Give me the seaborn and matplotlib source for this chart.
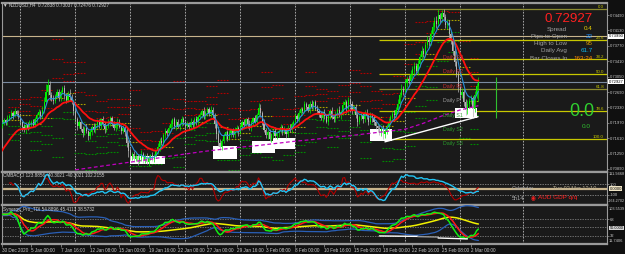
import numpy as np
import pandas as pd
import matplotlib
matplotlib.use("Agg")
import matplotlib.pyplot as plt
from matplotlib.patches import Rectangle
import seaborn as sns

# ---------------- data (NZDUSD H4, prices in pips x1e-4) ----------------
first_open_pips = 7190
close_pips = [
    7195, 7203, 7198, 7208, 7212,
    7220, 7214, 7225, 7218, 7210,
    7198, 7188, 7180, 7192, 7185, 7195, 7200, 7192,
    7205, 7215, 7222, 7212, 7228,
    7245, 7270, 7285, 7262, 7255,
    7248, 7260, 7268, 7255, 7270, 7278, 7262, 7250, 7265, 7258, 7245,
    7225, 7205, 7190, 7198,
    7182, 7172, 7185, 7178, 7165, 7175, 7188, 7180, 7192,
    7200, 7190, 7205, 7195, 7182, 7190, 7198, 7208, 7195, 7185, 7192, 7200, 7188, 7178, 7185, 7175,
    7150, 7130, 7118, 7125,
    7112, 7120, 7108, 7115, 7125, 7110, 7118, 7105, 7115, 7122, 7112, 7120, 7130,
    7140, 7155, 7150, 7168, 7178, 7172, 7185,
    7195, 7205, 7190, 7200, 7188, 7195, 7205, 7198, 7190,
    7195, 7188, 7200, 7192, 7205, 7198, 7210,
    7215, 7225, 7212, 7222, 7230, 7218, 7228, 7215,
    7195, 7170, 7150, 7140, 7155,
    7165, 7175, 7160, 7172, 7180, 7168, 7178, 7185, 7175,
    7188, 7198, 7192, 7205, 7195, 7185, 7198, 7208, 7200, 7215, 7232, 7220, 7200,
    7180, 7168, 7175, 7160, 7170, 7178, 7165, 7172,
    7178, 7188, 7175, 7182, 7170, 7185, 7180, 7195,
    7200, 7212, 7205, 7220, 7230, 7225, 7240, 7235, 7228, 7242, 7235, 7245, 7230, 7225,
    7218, 7208, 7222, 7212, 7200, 7215, 7225, 7210, 7205, 7218, 7228, 7215, 7222,
    7238, 7245, 7230, 7250, 7240, 7225, 7235, 7215, 7198, 7210,
    7215, 7205, 7220, 7212, 7200, 7215, 7208, 7198, 7190, 7185,
    7175, 7182, 7170, 7178, 7188, 7200,
    7210, 7218, 7215, 7228, 7242,
    7262, 7275, 7270, 7290, 7300, 7295,
    7310, 7322, 7330, 7318, 7335,
    7350, 7365, 7358, 7378, 7390, 7385,
    7405, 7420, 7435, 7428, 7448, 7440,
    7455,
    7445, 7425, 7430, 7405,
    7390, 7365, 7340, 7310, 7280,
    7262, 7270, 7245, 7228, 7240, 7248,
    7255, 7230, 7262, 7283.8, 7292.7,
]
wick_hi = [
    4, 6, 3, 8, 5, 7, 4, 6, 3, 9,
    5, 3, 7, 4, 6, 8, 3, 5, 6, 4,
    7, 5, 9, 12, 18, 15, 10, 8, 6, 5,
    9, 7, 4, 6, 8, 5, 7, 10, 6, 4,
    8, 6, 5, 4, 7, 5, 9, 3, 6, 4,
    8, 5, 6, 7, 4, 9, 5, 3, 8, 6,
    5, 7, 4, 8, 6, 3, 7, 5, 9, 6,
    8, 4, 5, 7, 3, 6, 9, 4, 5, 8,
    6, 3, 7, 5, 4, 9, 6, 8, 5, 7,
    4, 6, 8, 3, 5, 7, 6, 4, 9, 5,
    3, 7, 5, 8, 4, 6, 9, 5, 7, 4,
    8, 6, 3, 5, 9, 7, 4, 6, 10, 8,
    5, 7, 4, 6, 8, 3, 5, 9, 6, 4,
    7, 5, 8, 4, 6, 9, 5, 3, 7, 6,
    12, 8, 5, 7, 4, 6, 8, 3, 5, 9,
    6, 4, 7, 5, 8, 3, 6, 9, 5, 4,
    7, 6, 8, 5, 4, 9, 6, 5, 7, 8,
    4, 6, 9, 5, 7, 3, 8, 6, 4, 5,
    9, 6, 7, 4, 8, 5, 10, 7, 6, 8,
    5, 9, 4, 7, 6, 5, 8, 4, 6, 9,
    5, 7, 4, 8, 6, 3, 7, 5, 9, 4,
    6, 8, 5, 7, 9, 6, 10, 8, 12, 7,
    9, 6, 8, 11, 7, 9, 6, 10, 8, 12,
    7, 9, 11, 8, 10, 13, 9, 12, 15, 7,
    7, 8, 6, 9, 7, 5, 8, 6, 4, 9,
    3, 8, 5, 7, 10, 6, 8, 5, 9, 7,
    11,
]
wick_lo = [
    6, 4, 7, 5, 3, 5, 8, 4, 6, 5,
    7, 9, 4, 6, 5, 3, 7, 5, 4, 8,
    5, 6, 4, 7, 5, 9, 12, 6, 8, 5,
    4, 7, 6, 5, 9, 6, 4, 8, 5, 10,
    7, 9, 6, 5, 8, 4, 6, 9, 5, 7,
    5, 6, 8, 4, 7, 5, 9, 6, 4, 8,
    6, 5, 7, 9, 4, 8, 6, 10, 9, 12,
    7, 8, 6, 5, 9, 4, 7, 6, 8, 5,
    9, 6, 5, 7, 4, 6, 8, 5, 9, 6,
    7, 4, 6, 8, 5, 9, 4, 7, 5, 6,
    8, 5, 7, 4, 6, 9, 5, 8, 4, 7,
    5, 6, 9, 4, 7, 8, 10, 12, 8, 6,
    7, 5, 8, 6, 4, 9, 5, 7, 6, 8,
    5, 8, 4, 6, 9, 5, 7, 6, 4, 8,
    5, 9, 7, 4, 6, 8, 5, 7, 9, 4,
    6, 8, 5, 7, 4, 9, 6, 5, 8, 6,
    5, 7, 6, 8, 4, 6, 9, 5, 7, 5,
    8, 4, 6, 7, 5, 9, 6, 4, 7, 8,
    5, 7, 6, 9, 4, 8, 6, 7, 9, 10,
    6, 8, 5, 7, 9, 4, 6, 8, 5, 7,
    9, 6, 8, 5, 7, 10, 6, 8, 10, 9,
    7, 6, 9, 5, 8, 6, 9, 7, 5, 8,
    6, 9, 7, 5, 8, 10, 6, 9, 7, 8,
    6, 8, 5, 9, 7, 6, 8, 10, 7, 9,
    8, 10, 7, 9, 12, 8, 10, 9, 7, 11,
    9, 8, 8, 12, 10, 9, 7, 21, 8, 6,
    36,
]
red_ma_seed = 0.7125
ma_long_bars = list(range(40, 261, 10))
ma_long = [0.7087, 0.7093, 0.7099, 0.7105, 0.7111, 0.7118, 0.7124, 0.7130, 0.7135,
           0.7140, 0.7144, 0.7149, 0.7154, 0.7158, 0.7163, 0.7167, 0.7172, 0.7177,
           0.7182, 0.7196, 0.7213, 0.7227, 0.7237]
tick_bars = list(range(0, 257, 16))
tick_labels = ["30 Dec 2020", "5 Jan 00:00", "7 Jan 16:00", "12 Jan 08:00", "15 Jan 00:00",
               "19 Jan 16:00", "22 Jan 08:00", "27 Jan 00:00", "29 Jan 16:00", "3 Feb 08:00",
               "8 Feb 00:00", "10 Feb 16:00", "15 Feb 08:00", "18 Feb 00:00", "22 Feb 16:00",
               "25 Feb 08:00", "2 Mar 00:00"]
week_bars = [10, 40, 70, 100, 130, 160, 190, 220, 250, 284.5]
price_ticks = [0.74490, 0.74130, 0.73770, 0.73410, 0.73050, 0.72690, 0.72330,
               0.71970, 0.71610, 0.71250, 0.70890]
hline_price = 0.73990
fib_levels = [0.0, 23.6, 38.2, 50.0, 61.8, 78.6, 100.0]
fib_high, fib_low, fib_start = 0.7463, 0.7160, 205.5
boxes = [(70.0, 89.1, 0.71008, 0.71196), (115.3, 128.4, 0.71125, 0.71431),
         (136.5, 149.1, 0.71266, 0.71549), (148.0, 160.0, 0.71361, 0.71619),
         (200.9, 212.9, 0.71549, 0.71831), (247.3, 259.3, 0.72090, 0.72325)]
trend_main = ([209.0, 259.8], [0.71525, 0.72114])
info_labels = ["Spread", "Pips to Open", "High to Low", "Daily Avg", "Bar Closes In"]
info_values = ["0.4", "22", "95", "61.7", "163:24"]
info_colors = ["#e8d000", "#1e90ff", "#e0a000", "#10b8f0", "#ff8c00"]

# ---------------- derived series ----------------
c = np.array(close_pips, dtype=float) / 1e4
o = np.r_[first_open_pips, close_pips[:-1]] / 1e4
hi = np.maximum(o, c) + np.array(wick_hi) / 1e4
lo = np.minimum(o, c) - np.array(wick_lo) / 1e4
n = len(c)
bars = np.arange(n)
cs = pd.Series(c)
ema_fast = cs.ewm(span=6, adjust=False).mean().values
ema_red = pd.Series(np.r_[red_ma_seed, c]).ewm(span=20, adjust=False).mean().values[1:]

tp = pd.Series((hi + lo + c) / 3)
def cci(period, minp):
    sma = tp.rolling(period, min_periods=minp).mean()
    mad = tp.rolling(period, min_periods=minp).apply(lambda x: np.mean(np.abs(x - x.mean())), raw=True)
    return ((tp - sma) / (0.015 * mad)).values
cci_fast = cci(14, 5)
cci_slow = cci(50, 8)

delta = pd.Series(np.r_[np.nan, np.diff(c)])
gain = delta.clip(lower=0).ewm(alpha=1 / 13, adjust=True, min_periods=3).mean()
loss = (-delta).clip(lower=0).ewm(alpha=1 / 13, adjust=True, min_periods=3).mean()
rsi = (100 * gain / (gain + loss)).bfill()
tdi_green = rsi.rolling(2, min_periods=1).mean().values
tdi_red = rsi.rolling(7, min_periods=1).mean().values
tdi_yel = rsi.rolling(34, min_periods=1).mean()
tdi_std = rsi.rolling(34, min_periods=5).std().bfill()
tdi_up = (tdi_yel + 1.6185 * tdi_std).values
tdi_dn = (tdi_yel - 1.6185 * tdi_std).values
tdi_yel = tdi_yel.values

day_id = np.where(bars < 4, 0, (bars - 4) // 6 + 1)
df = pd.DataFrame({"h": hi, "l": lo, "c": c, "d": day_id})
g = df.groupby("d").agg(h=("h", "max"), l=("l", "min"), c=("c", "last"))

# ---------------- style / figure ----------------
sns.set_style("dark", {"axes.facecolor": "#1a1a1a", "figure.facecolor": "#101010"})
plt.rcParams["font.family"] = ["Liberation Sans Narrow", "Liberation Sans", "DejaVu Sans"]
SMALL = 3.3
AX_LAB = 3.0
W, H = 625, 254
fig = plt.figure(figsize=(W / 100, H / 100), dpi=100)
R = 607

def rect(top, bottom):
    return [2 / W, 1 - bottom / H, (R - 2) / W, (bottom - top) / H]

ax = fig.add_axes(rect(3, 172))
axc = fig.add_axes(rect(172, 204.5), sharex=ax)
axt = fig.add_axes(rect(204.5, 243.5), sharex=ax)
XL = ((2 - 1.67) / 1.8333, (R - 1.67) / 1.8333)

GRID = dict(color="#bcbcbc", lw=0.6, ls=(0, (2, 1.6)), zorder=1)
for a in (ax, axc, axt):
    a.grid(False)
    for wb in week_bars:
        a.axvline(wb, **GRID)
    for s in a.spines.values():
        s.set_color("#9a9a9a")
        s.set_linewidth(0.8)
    a.spines["top"].set_linewidth(1.6)
    a.spines["bottom"].set_linewidth(1.6)

# ---- main panel ----
PIV_R, PIV_S, PIV_P = "#b00000", "#008a00", "#a8a000"
dots = (0, (1.6, 1.2))
for d in g.index[1:]:
    prev = g.loc[d - 1]
    P = (prev.h + prev.l + prev.c) / 3
    rng = prev.h - prev.l
    idx = bars[day_id == d]
    x0, x1 = idx[0] - 0.5, idx[-1] + 0.5
    ax.hlines([2 * P - prev.l, P + rng, prev.h + 2 * (P - prev.l)], x0, x1, colors=PIV_R, lw=0.8, ls=dots, zorder=2)
    ax.hlines([2 * P - prev.h, P - rng, prev.l - 2 * (prev.h - P)], x0, x1, colors=PIV_S, lw=0.8, ls=dots, zorder=2)
    ax.hlines(P, x0, x1, colors=PIV_P, lw=0.8, ls=dots, zorder=2)

last = g.iloc[-2]
P = (last.h + last.l + last.c) / 3
rng = last.h - last.l
cur_levels = [("Daily R3", last.h + 2 * (P - last.l), "#c83030"), ("Daily R2", P + rng, "#c83030"),
              ("Daily R1", 2 * P - last.l, "#c83030"), ("Daily P", P, "#9a9a9a"),
              ("Daily S1", 2 * P - last.h, "#3a9a3a"), ("Daily S2", P - rng, "#2a9a2a"),
              ("Daily S3", last.l - 2 * (last.h - P), "#2a9a2a")]
for name, lvl, col in cur_levels:
    ax.text(240.5, lvl, name, color=col, fontsize=3.8, va="center", ha="left", zorder=8)

for (b0, b1, p0, p1) in boxes:
    ax.add_patch(Rectangle((b0, p0), b1 - b0, p1 - p0, fc="white", ec="none", zorder=3))

ax.axhline(hline_price, color="#c8b48c", lw=0.8, zorder=2)
ax.axhline(c[-1], color="#7a8aa0", lw=0.8, zorder=2)
for lv in fib_levels:
    fp = fib_high - lv / 100 * (fib_high - fib_low)
    col = "#8c8a30" if lv in (0.0, 61.8) else "#c8c800"
    ax.hlines(fp, fib_start, XL[1], colors=col, lw=0.9, zorder=2)
    ax.text(328.5, fp, f"{lv:.1f}", color="#c8c800", fontsize=3.2, ha="right", va="bottom", zorder=8)

up = c >= o
cols = np.where(up, "#00f000", "#b4b4b4")
ax.vlines(bars, lo, hi, colors=cols, lw=0.5, zorder=4)
ax.bar(bars, np.maximum(np.abs(c - o), 0.00003), bottom=np.minimum(o, c), width=0.62,
       color=cols, lw=0, zorder=5)

sns.lineplot(x=ma_long_bars, y=ma_long, ax=ax, color="#c000c0", linewidth=0.9,
             linestyle=(0, (3, 2)), legend=False, estimator=None, sort=False, zorder=6)
sns.lineplot(x=bars, y=ema_red, ax=ax, color="#ff1010", linewidth=1.3, legend=False,
             estimator=None, sort=False, zorder=6)
sns.lineplot(x=bars, y=ema_fast, ax=ax, color="#2a8fd8", linewidth=0.8, legend=False,
             estimator=None, sort=False, zorder=7)
ax.plot(trend_main[0], trend_main[1], color="white", lw=1.0, zorder=7)
cur = g.iloc[-1]
ax.vlines(269.6, cur.l, cur.h, colors="#30c030", lw=0.8, zorder=6)

ax.set_ylim(0.74490 - 156 * 0.0002353, 0.74490 + 12 * 0.0002353)
ax.yaxis.tick_right()
ax.set_yticks(price_ticks)
ax.set_yticklabels([f"{v:.5f}" for v in price_ticks])
for val, txt in ((hline_price, "0.73990"), (c[-1], f"{c[-1]:.5f}")):
    ax.text(1.003, val, txt, transform=ax.get_yaxis_transform(), fontsize=AX_LAB, color="black",
            va="center", ha="left", bbox=dict(boxstyle="square,pad=0.12", fc="white", ec="none"),
            clip_on=False, zorder=10)

# ---- CCI panel ----
axc.axhline(0, color="#c8b48c", lw=1.6, zorder=2)
for lv in (100, -100):
    axc.axhline(lv, color="#9a9a9a", lw=0.5, ls=(0, (2, 1.6)), zorder=2)
sns.lineplot(x=bars, y=cci_fast, ax=axc, color="#b00000", linewidth=0.8, legend=False,
             estimator=None, sort=False, zorder=4)
sns.lineplot(x=bars, y=cci_slow, ax=axc, color="#22c4f4", linewidth=1.0, legend=False,
             estimator=None, sort=False, zorder=5)
axc.set_ylim(-290, 330)
axc.yaxis.tick_right()
axc.set_yticks([100, -100])
axc.set_yticklabels(["100", "-100"])

# ---- TDI panel ----
for lv in (68, 50, 32):
    axt.axhline(lv, color="#8c8c8c", lw=0.5, ls=(0, (2, 1.6)), zorder=2)
sns.lineplot(x=bars, y=tdi_up, ax=axt, color="#2a60b8", linewidth=0.9, legend=False, estimator=None, sort=False, zorder=3)
sns.lineplot(x=bars, y=tdi_dn, ax=axt, color="#2a60b8", linewidth=0.9, legend=False, estimator=None, sort=False, zorder=3)
sns.lineplot(x=bars, y=tdi_yel, ax=axt, color="#f2f200", linewidth=1.1, legend=False, estimator=None, sort=False, zorder=4)
sns.lineplot(x=bars, y=tdi_red, ax=axt, color="#ff1818", linewidth=1.1, legend=False, estimator=None, sort=False, zorder=5)
sns.lineplot(x=bars, y=tdi_green, ax=axt, color="#12ee12", linewidth=1.1, legend=False, estimator=None, sort=False, zorder=6)
axt.plot([206, 227], [31.5, 30.5], color="white", lw=1.0, zorder=7)
axt.plot([227, 238], [30.0, 29.0], color="#9a9a9a", lw=1.0, zorder=7)
axt.plot([238, 254], [27.0, 25.0], color="white", lw=1.0, zorder=7)
axt.set_ylim(15, 100)
axt.yaxis.tick_right()
axt.set_yticks([68, 32])
axt.set_yticklabels(["68", "32"])

# ---- axes / ticks ----
for a in (ax, axc, axt):
    a.set_xlim(*XL)
    a.set_xlabel("")
    a.set_ylabel("")
    a.tick_params(axis="y", which="both", left=False, right=True, length=1.5, width=0.5,
                  color="#9a9a9a", labelsize=AX_LAB, pad=0.4, labelcolor="#c8c8c8")
    a.tick_params(axis="x", bottom=False, labelbottom=False)
axt.set_xticks(tick_bars)
axt.set_xticklabels(tick_labels)
axt.tick_params(axis="x", bottom=True, labelbottom=True, length=2, width=0.5, color="#9a9a9a",
                labelsize=SMALL, pad=1.5, labelcolor="#c8c8c8")
for lab in axt.get_xticklabels():
    lab.set_ha("left")

# ---- texts in pixel coordinates ----
def ft(px, py, s, **kw):
    fig.text(px / W, 1 - py / H, s, **kw)

ft(3, 5, "▼ NZDUSD,H4  0.72838 0.73037 0.72476 0.72927", fontsize=SMALL, color="#d0d0d0", va="center")
ft(3, 175.5, "CMBACCI 123.8856 -40.3021 -40.3021 102.2155", fontsize=SMALL, color="#d0d0d0", va="center")
ft(3, 209, "Synergy_Pro_TDI 54.8896 45.4113 38.5732", fontsize=SMALL, color="#d0d0d0", va="center")

SANS = ["Liberation Sans", "DejaVu Sans"]
ft(593, 19.5, f"{c[-1]:.5f}", fontsize=9.6, color="#ff2020", ha="right", va="center", family=SANS)
for k, (lab, val, col) in enumerate(zip(info_labels, info_values, info_colors)):
    y = 29 + k * 7.3
    ft(567, y, lab, fontsize=4.5, color="#a0a0a0", ha="right", va="center", family=SANS)
    ft(593, y, val, fontsize=4.5, color=col, ha="right", va="center", family=SANS)
ft(582, 111.5, "0.0", fontsize=13, color="#30d030", ha="center", va="center", family=SANS)
ft(586, 126.5, "0.0", fontsize=4.6, color="#30c030", ha="center", va="center", family=SANS)

ft(512, 189, "Calendar", fontsize=4.0, color="#a8a8a8", va="center", family=SANS)
ft(553, 189, "Tue 02 Mar 13:10", fontsize=4.0, color="#b8ac90", va="center", family=SANS)
ft(512, 198, "5h14", fontsize=4.0, color="#a8a8a8", va="center", family=SANS)
ft(531, 198, "◉", fontsize=4.0, color="#ff2020", va="center", family=["DejaVu Sans"])
ft(538, 198, "AUD GDP q/q", fontsize=4.6, color="#ff2020", va="center", family=SANS)

ft(609, 174, "111.9468", fontsize=2.8, color="#c8c8c8", va="center")
ft(608, 200.5, "-164.2702", fontsize=2.7, color="#c8c8c8", va="center")
ft(609.5, 188.5, "0.0000", fontsize=AX_LAB, color="black", va="center",
   bbox=dict(boxstyle="square,pad=0.12", fc="#efe4c4", ec="none"))
ft(609, 208.5, "103.5539", fontsize=2.8, color="#c8c8c8", va="center")
ft(609, 241, "11.7406", fontsize=AX_LAB, color="#c8c8c8", va="center")
ft(609.5, 228, "50.0000", fontsize=2.8, color="black", va="center",
   bbox=dict(boxstyle="square,pad=0.12", fc="#d4d4d4", ec="none"))

fig.savefig("out.png", dpi=100, facecolor=fig.get_facecolor())
